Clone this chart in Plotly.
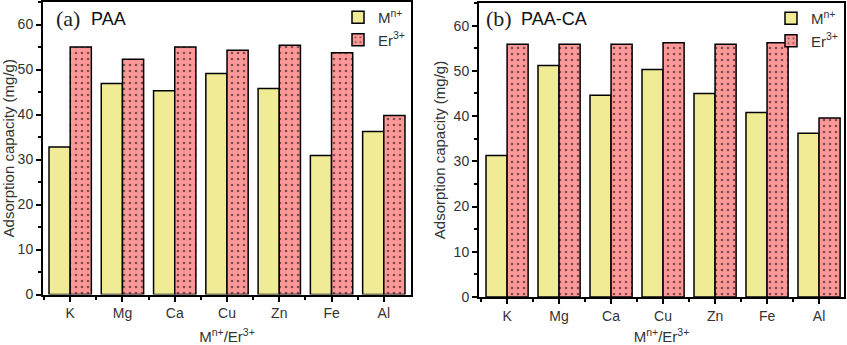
import plotly.graph_objects as go

categories = ["K", "Mg", "Ca", "Cu", "Zn", "Fe", "Al"]
paa_m = [32.8, 46.9, 45.3, 49.1, 45.8, 30.9, 36.2]
paa_er = [55.0, 52.3, 55.0, 54.3, 55.4, 53.7, 39.8]
paaca_m = [31.3, 51.2, 44.6, 50.3, 45.0, 40.8, 36.2]
paaca_er = [55.9, 55.9, 55.9, 56.2, 55.9, 56.2, 39.6]
series_names = ["M<sup>n+</sup>", "Er<sup>3+</sup>"]
panel_labels = [("(a)", "PAA"), ("(b)", "PAA-CA")]

W, H = 847, 345
idx = list(range(len(categories)))
minor_vals = [i + 0.5 for i in idx[:-1]] + [-0.5]

YELLOW = "#F0EC96"
SALMON = "#FF9999"

fig = go.Figure()

def add_pair(m, er, xa, ya, leg):
    fig.add_trace(go.Bar(
        x=idx, y=m, name=series_names[0], xaxis=xa, yaxis=ya, legend=leg,
        marker=dict(color=YELLOW, line=dict(color="black", width=1.5)),
    ))
    fig.add_trace(go.Bar(
        x=idx, y=er, name=series_names[1], xaxis=xa, yaxis=ya, legend=leg,
        marker=dict(color=SALMON, line=dict(color="black", width=1.5),
                    pattern=dict(shape=".", fgcolor="black", bgcolor=SALMON,
                                 size=6, solidity=0.15)),
    ))

add_pair(paa_m, paa_er, "x", "y", "legend")
add_pair(paaca_m, paaca_er, "x2", "y2", "legend2")

tickfont = dict(family="Liberation Sans, Arial", size=14, color="#333333")
titlefont = dict(family="Liberation Sans, Arial", size=15, color="#333333")

def xaxis(domain, rng, anchor, standoff):
    return dict(
        domain=domain, anchor=anchor, range=rng, automargin=False,
        tickmode="array", tickvals=idx, ticktext=categories,
        ticks="outside", ticklen=5, tickwidth=1.5, tickcolor="black",
        minor=dict(tickmode="array", tickvals=minor_vals, ticks="outside",
                   ticklen=3, tickwidth=1.5, tickcolor="black"),
        showline=True, linecolor="black", linewidth=2, mirror=True,
        showgrid=False, zeroline=False, tickfont=tickfont,
        title=dict(text="M<sup>n+</sup>/Er<sup>3+</sup>", font=titlefont, standoff=standoff),
    )

def yaxis(domain, anchor):
    return dict(
        domain=domain, anchor=anchor, range=[0, 65], automargin=False,
        tickmode="linear", tick0=0, dtick=10,
        ticks="outside", ticklen=5, tickwidth=1.5, tickcolor="black",
        minor=dict(dtick=5, ticks="outside", ticklen=3, tickwidth=1.5, tickcolor="black"),
        showline=True, linecolor="black", linewidth=2, mirror=True,
        showgrid=False, zeroline=False, tickfont=tickfont,
        title=dict(text="Adsorption capacity (mg/g)", font=titlefont, standoff=4),
    )

legfont = dict(family="Liberation Sans, Arial", size=15, color="#333333")

fig.update_layout(
    width=W, height=H,
    margin=dict(l=0, r=0, t=0, b=0),
    paper_bgcolor="white", plot_bgcolor="white",
    barmode="group", bargap=0.19, bargroupgap=0,
    xaxis=xaxis([43 / W, 411 / W], [-0.52, 6.52], "y", 14),
    yaxis=yaxis([1 - 294.5 / H, 1 - 2 / H], "x"),
    xaxis2=xaxis([479 / W, 844 / W], [-0.54, 6.48], "y2", 17),
    yaxis2=yaxis([1 - 297 / H, 1 - 3 / H], "x2"),
    legend=dict(x=410 / W, xanchor="right", y=1 - 1 / H, yanchor="top",
                bgcolor="rgba(0,0,0,0)", font=legfont,
                tracegroupgap=0, itemwidth=30),
    legend2=dict(x=843 / W, xanchor="right", y=1 - 2 / H, yanchor="top",
                 bgcolor="rgba(0,0,0,0)", font=legfont,
                 tracegroupgap=0, itemwidth=30),
    font=dict(family="Liberation Sans, Arial"),
)

label_pos = [(54 / W, 89 / W), (484 / W, 519 / W)]
for (lab, name), (xl, xn) in zip(panel_labels, label_pos):
    fig.add_annotation(text=lab, xref="paper", yref="paper", x=xl, y=1 - 19 / H,
                       xanchor="left", yanchor="middle", showarrow=False,
                       font=dict(family="Liberation Serif, Times New Roman", size=22, color="#222222"))
    fig.add_annotation(text=name, xref="paper", yref="paper", x=xn, y=1 - 19 / H,
                       xanchor="left", yanchor="middle", showarrow=False,
                       font=dict(family="Liberation Sans, Arial", size=18, color="#111111"))

fig.write_html("out.html")
